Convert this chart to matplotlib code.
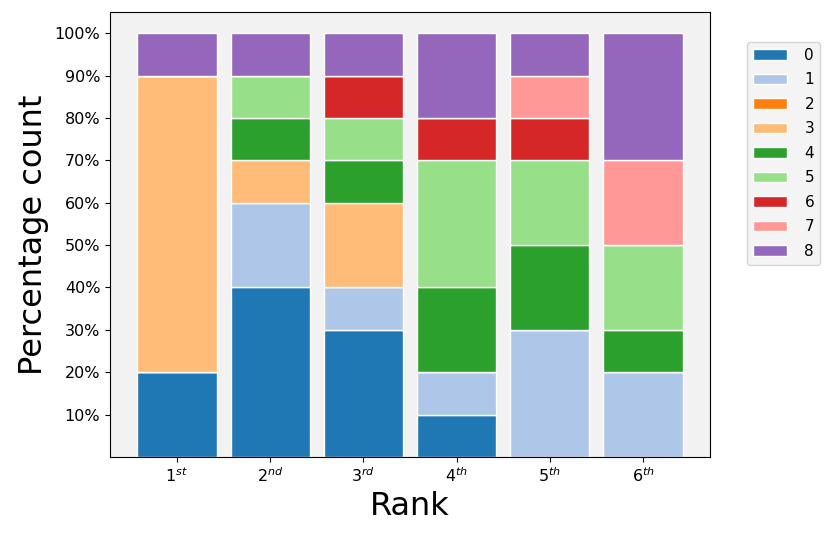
import matplotlib.pyplot as plt
from matplotlib.ticker import PercentFormatter

ranks = ["$1^{st}$", "$2^{nd}$", "$3^{rd}$", "$4^{th}$", "$5^{th}$", "$6^{th}$"]
groups = ["0", "1", "2", "3", "4", "5", "6", "7", "8"]

# percentage per group for each rank
g0 = [20, 40, 30, 10, 0, 0]
g1 = [0, 20, 10, 10, 30, 20]
g2 = [0, 0, 0, 0, 0, 0]
g3 = [70, 10, 20, 0, 0, 0]
g4 = [0, 10, 10, 20, 20, 10]
g5 = [0, 10, 10, 30, 20, 20]
g6 = [0, 0, 10, 10, 10, 0]
g7 = [0, 0, 0, 0, 10, 20]
g8 = [10, 10, 10, 20, 10, 30]
values = [g0, g1, g2, g3, g4, g5, g6, g7, g8]

colors = plt.get_cmap("tab20").colors[:len(groups)]

fig = plt.figure(figsize=(8.3, 5.39), dpi=100)
ax = fig.add_axes([110 / 830, 1 - 457 / 539, 600 / 830, 445 / 539])
ax.set_facecolor("#f2f2f2")

x = list(range(len(ranks)))
bottom = [0] * len(ranks)
for name, vals, c in zip(groups, values, colors):
    ax.bar(x, vals, bottom=bottom, width=0.85, color=c, edgecolor="white",
           linewidth=1, label=name)
    bottom = [b + v for b, v in zip(bottom, vals)]

ax.set_xticks(x)
ax.set_xticklabels(ranks, fontsize=11.5)
ax.set_yticks(range(10, 101, 10))
ax.yaxis.set_major_formatter(PercentFormatter(decimals=0))
ax.tick_params(axis="y", labelsize=11.5)
ax.set_xlabel("Rank", fontsize=23)
ax.set_ylabel("Percentage count", fontsize=23)

leg = ax.legend(loc="upper left", bbox_to_anchor=(1.062, 0.933), borderaxespad=0,
                fontsize=11, handlelength=2.2, handletextpad=1.15,
                labelspacing=0.62, facecolor="#f2f2f2")

fig.savefig("out.png", dpi=100)
